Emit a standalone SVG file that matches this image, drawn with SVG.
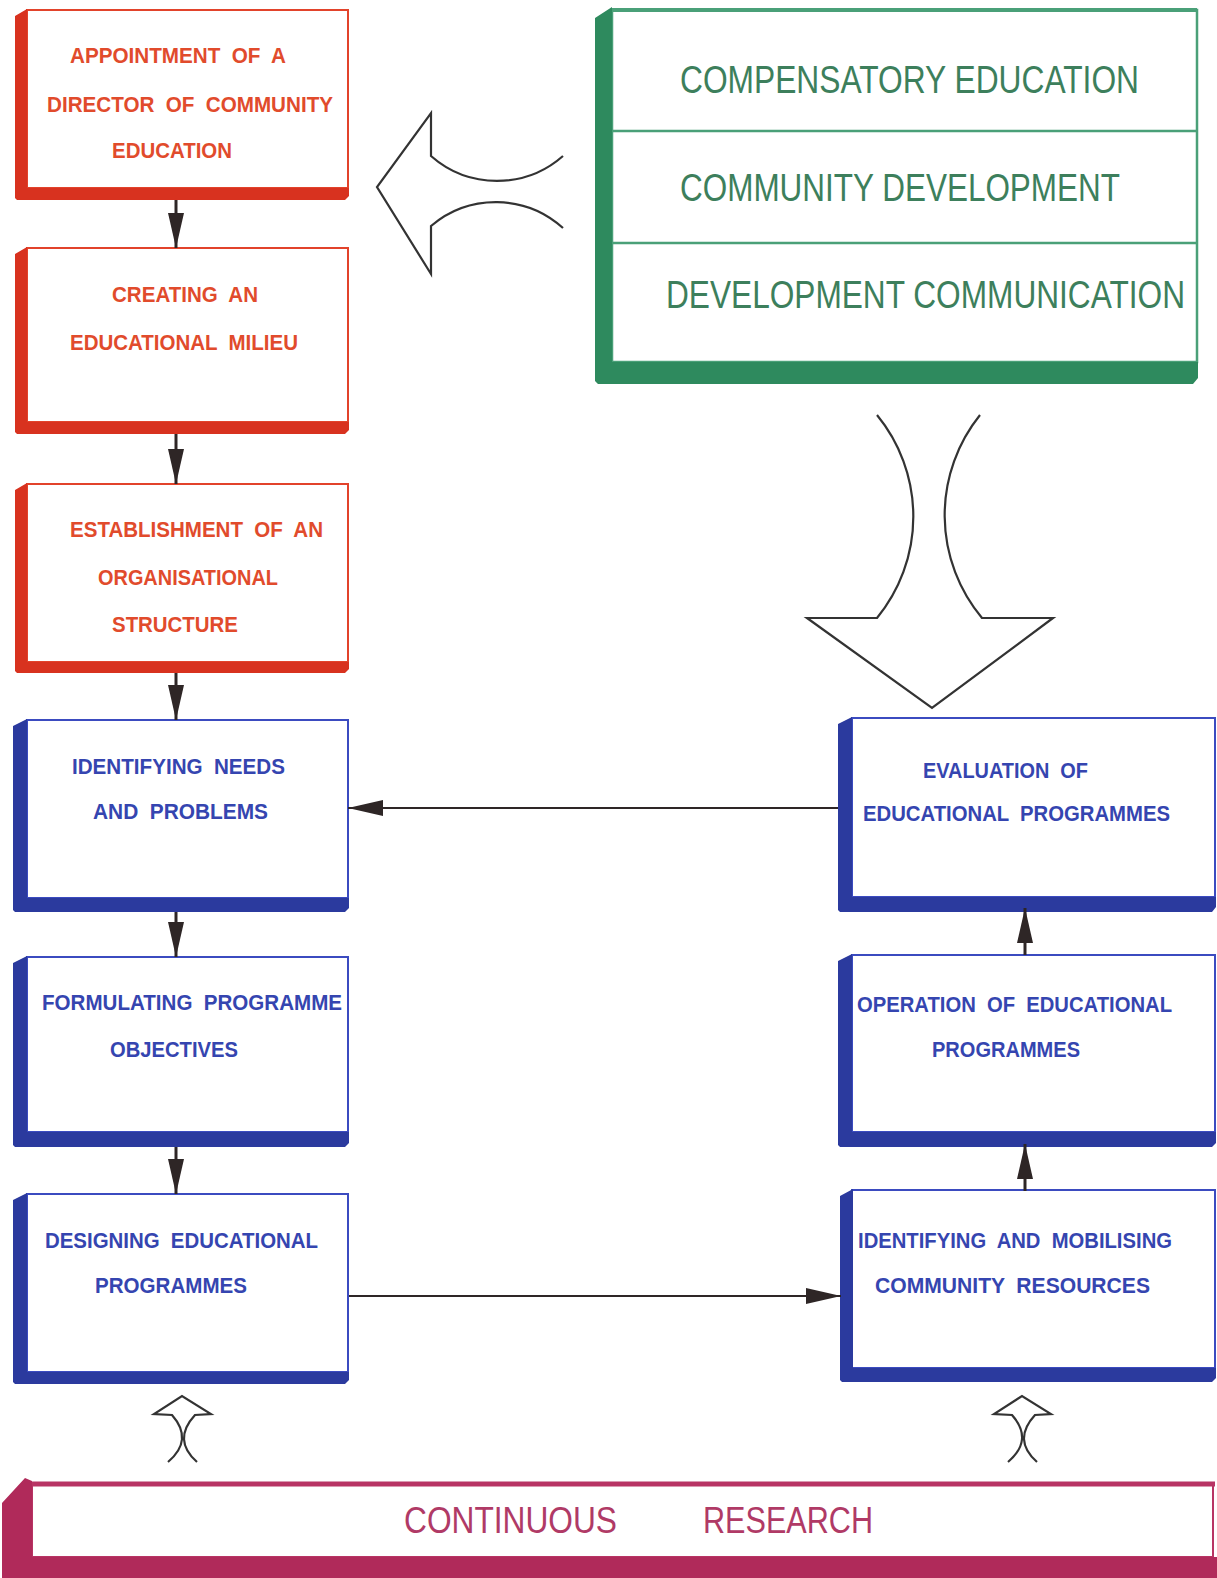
<svg xmlns="http://www.w3.org/2000/svg" width="1217" height="1578" viewBox="0 0 1217 1578">
<style>
.bg{fill:#ffffff}
.red .frame{fill:#ffffff;stroke:#e2432b;stroke-width:2}
.red .shade{fill:#d8321f}
.red text{fill:#e14b2c}
.blue .frame{fill:#ffffff;stroke:#3b4bc0;stroke-width:2}
.blue .shade{fill:#2b3a9e}
.blue text{fill:#3545b0}
.lbl{font-family:"Liberation Sans",Arial,sans-serif;font-weight:bold;font-size:22px;word-spacing:6px}
.big{font-family:"Liberation Sans",Arial,sans-serif;font-weight:normal;font-size:31px}
.green .frame{fill:#ffffff;stroke:#4aa078;stroke-width:2.5}
.green .topl{stroke:#4aa078;stroke-width:4}
.green .shade{fill:#2e8a5e}
.green text{fill:#3d7f5c}
.green .div{stroke:#4aa078;stroke-width:2.5}
.pink .frame{fill:#ffffff;stroke:#b83464;stroke-width:2}
.pink .top{stroke:#b83464;stroke-width:5}
.pink .shade{fill:#b02a5a}
.pink text{fill:#b03a66}
.conn line{stroke:#2e2626;stroke-width:3;fill:none}
.conn line.h{stroke-width:2}
.hollow{fill:none;stroke:#333333;stroke-width:2.2;stroke-linejoin:miter}
</style>
<defs>
<marker id="ah" markerUnits="userSpaceOnUse" markerWidth="36" markerHeight="18" viewBox="0 0 36 18" refX="35" refY="9" orient="auto">
<path d="M0,1 L35,9 L0,17 Z" fill="#2e2626"/>
</marker>
</defs>
<rect class="bg" x="0" y="0" width="1217" height="1578"/>

<!-- Red boxes -->
<g id="n-appointment" class="red">
<rect class="frame" x="27" y="10" width="321" height="178"/>
<polygon class="shade" points="15,16 27,9 27,188 349,188 349,196 345,200 17,200 15,198"/>
<text class="lbl" x="70" y="63" textLength="216" lengthAdjust="spacingAndGlyphs">APPOINTMENT OF A</text>
<text class="lbl" x="47" y="112" textLength="286" lengthAdjust="spacingAndGlyphs">DIRECTOR OF COMMUNITY</text>
<text class="lbl" x="112" y="158" textLength="120" lengthAdjust="spacingAndGlyphs">EDUCATION</text>
</g>
<g id="n-milieu" class="red">
<rect class="frame" x="27" y="248" width="321" height="174"/>
<polygon class="shade" points="15,254 27,247 27,422 349,422 349,430 345,434 17,434 15,432"/>
<text class="lbl" x="112" y="302" textLength="146" lengthAdjust="spacingAndGlyphs">CREATING AN</text>
<text class="lbl" x="70" y="350" textLength="228" lengthAdjust="spacingAndGlyphs">EDUCATIONAL MILIEU</text>
</g>
<g id="n-structure" class="red">
<rect class="frame" x="27" y="484" width="321" height="178"/>
<polygon class="shade" points="15,490 27,483 27,662 349,662 349,669 345,673 17,673 15,671"/>
<text class="lbl" x="70" y="537" textLength="253" lengthAdjust="spacingAndGlyphs">ESTABLISHMENT OF AN</text>
<text class="lbl" x="98" y="585" textLength="180" lengthAdjust="spacingAndGlyphs">ORGANISATIONAL</text>
<text class="lbl" x="112" y="632" textLength="126" lengthAdjust="spacingAndGlyphs">STRUCTURE</text>
</g>

<!-- Blue boxes left -->
<g id="n-needs" class="blue">
<rect class="frame" x="27" y="720" width="321" height="178"/>
<polygon class="shade" points="13,726 27,719 27,898 349,898 349,908 345,912 15,912 13,910"/>
<text class="lbl" x="72" y="774" textLength="213" lengthAdjust="spacingAndGlyphs">IDENTIFYING NEEDS</text>
<text class="lbl" x="93" y="819" textLength="175" lengthAdjust="spacingAndGlyphs">AND PROBLEMS</text>
</g>
<g id="n-objectives" class="blue">
<rect class="frame" x="27" y="957" width="321" height="175"/>
<polygon class="shade" points="13,963 27,956 27,1132 349,1132 349,1143 345,1147 15,1147 13,1145"/>
<text class="lbl" x="42" y="1010" textLength="300" lengthAdjust="spacingAndGlyphs">FORMULATING PROGRAMME</text>
<text class="lbl" x="110" y="1057" textLength="128" lengthAdjust="spacingAndGlyphs">OBJECTIVES</text>
</g>
<g id="n-designing" class="blue">
<rect class="frame" x="27" y="1194" width="321" height="178"/>
<polygon class="shade" points="13,1200 27,1193 27,1372 349,1372 349,1380 345,1384 15,1384 13,1382"/>
<text class="lbl" x="45" y="1248" textLength="273" lengthAdjust="spacingAndGlyphs">DESIGNING EDUCATIONAL</text>
<text class="lbl" x="95" y="1293" textLength="152" lengthAdjust="spacingAndGlyphs">PROGRAMMES</text>
</g>

<!-- Blue boxes right -->
<g id="n-evaluation" class="blue">
<rect class="frame" x="852" y="718" width="363" height="179"/>
<polygon class="shade" points="838,724 852,717 852,897 1216,897 1216,907 1212,912 840,912 838,910"/>
<text class="lbl" x="923" y="778" textLength="165" lengthAdjust="spacingAndGlyphs">EVALUATION OF</text>
<text class="lbl" x="863" y="821" textLength="307" lengthAdjust="spacingAndGlyphs">EDUCATIONAL PROGRAMMES</text>
</g>
<g id="n-operation" class="blue">
<rect class="frame" x="852" y="955" width="363" height="177"/>
<polygon class="shade" points="838,961 852,954 852,1132 1216,1132 1216,1143 1212,1147 840,1147 838,1145"/>
<text class="lbl" x="857" y="1012" textLength="315" lengthAdjust="spacingAndGlyphs">OPERATION OF EDUCATIONAL</text>
<text class="lbl" x="932" y="1057" textLength="148" lengthAdjust="spacingAndGlyphs">PROGRAMMES</text>
</g>
<g id="n-resources" class="blue">
<rect class="frame" x="852" y="1190" width="363" height="178"/>
<polygon class="shade" points="840,1196 853,1189 853,1368 1216,1368 1216,1378 1212,1382 842,1382 840,1380"/>
<text class="lbl" x="858" y="1248" textLength="314" lengthAdjust="spacingAndGlyphs">IDENTIFYING AND MOBILISING</text>
<text class="lbl" x="875" y="1293" textLength="275" lengthAdjust="spacingAndGlyphs">COMMUNITY RESOURCES</text>
</g>

<!-- Green box -->
<g id="n-approaches" class="green">
<rect class="frame" x="612" y="10" width="585" height="352"/>
<line class="topl" x1="612" y1="10" x2="1197" y2="10"/>
<line class="div" x1="612" y1="131" x2="1197" y2="131"/>
<line class="div" x1="612" y1="243" x2="1197" y2="243"/>
<polygon class="shade" points="595,18 612,7 612,362 1198,362 1198,378 1193,384 598,384 595,381"/>
<text class="big" transform="translate(680,93) scale(1,1.26)" x="0" y="0" textLength="459" lengthAdjust="spacingAndGlyphs">COMPENSATORY EDUCATION</text>
<text class="big" transform="translate(680,201) scale(1,1.26)" x="0" y="0" textLength="440" lengthAdjust="spacingAndGlyphs">COMMUNITY DEVELOPMENT</text>
<text class="big" transform="translate(666,308) scale(1,1.26)" x="0" y="0" textLength="519" lengthAdjust="spacingAndGlyphs">DEVELOPMENT COMMUNICATION</text>
</g>

<!-- Pink bar -->
<g id="n-research" class="pink">
<rect class="frame" x="32" y="1485" width="1181" height="72"/>
<line class="top" x1="25" y1="1484" x2="1215" y2="1484"/>
<polygon class="shade" points="2,1503 25,1478 32,1481 32,1557 1217,1557 1217,1578 2,1578"/>
<text class="big" transform="translate(404,1533) scale(1,1.2)" x="0" y="0" textLength="213" lengthAdjust="spacingAndGlyphs">CONTINUOUS</text>
<text class="big" transform="translate(703,1533) scale(1,1.2)" x="0" y="0" textLength="170" lengthAdjust="spacingAndGlyphs">RESEARCH</text>
</g>

<!-- Connectors -->
<g id="connectors" class="conn">
<line x1="176" y1="200" x2="176" y2="248" marker-end="url(#ah)"/>
<line x1="176" y1="434" x2="176" y2="484" marker-end="url(#ah)"/>
<line x1="176" y1="673" x2="176" y2="720" marker-end="url(#ah)"/>
<line x1="176" y1="912" x2="176" y2="957" marker-end="url(#ah)"/>
<line x1="176" y1="1147" x2="176" y2="1194" marker-end="url(#ah)"/>
<line class="h" x1="838" y1="808" x2="348" y2="808" marker-end="url(#ah)"/>
<line class="h" x1="349" y1="1296" x2="841" y2="1296" marker-end="url(#ah)"/>
<line x1="1025" y1="1191" x2="1025" y2="1144" marker-end="url(#ah)"/>
<line x1="1025" y1="955" x2="1025" y2="908" marker-end="url(#ah)"/>
<path class="hollow" d="M563,156 A100,100 0 0 1 431,156 L431,113 L377,187 L431,274 L431,226 A100,100 0 0 1 563,228"/>
<path class="hollow" d="M877,415 A160,160 0 0 1 877,618 L807,618 L932,708 L1053,618 L982,618 A160,160 0 0 1 980,415"/>
<path class="hollow" d="M168,1462 Q194,1440 172,1415 L154,1414 L182,1396 L211,1414 L195,1415 Q172,1440 197,1462"/>
<path class="hollow" d="M1008,1462 Q1034,1440 1012,1415 L994,1414 L1022,1396 L1051,1414 L1035,1415 Q1012,1440 1037,1462"/>
</g>
</svg>
